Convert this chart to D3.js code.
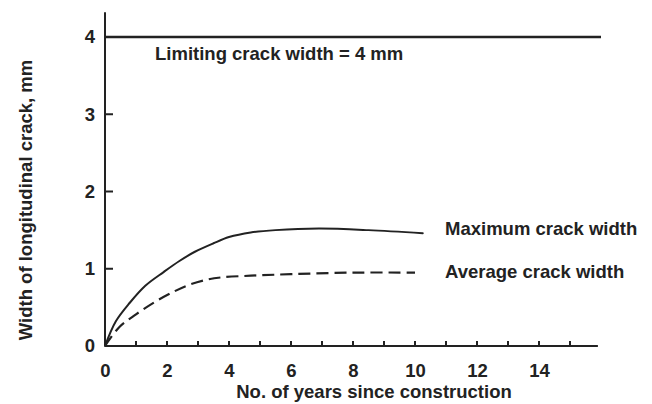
<!DOCTYPE html>
<html>
<head>
<meta charset="utf-8">
<script src="https://cdn.jsdelivr.net/npm/d3@7"></script>
<style>
  body { margin: 0; background: #fff; }
  text { font-family: "Liberation Sans", Arial, sans-serif; font-weight: bold; fill: #222; }
</style>
</head>
<body>
<div id="vis-container"></div>
<script>
// values (years, mm)
const maxYears  = [0, 0.35, 0.8, 1.3, 1.9, 2.4, 2.9, 3.5, 4.0, 4.7, 5.5, 6.9, 8.5, 10.25];
const maxWidth  = [0, 0.32, 0.56, 0.78, 0.96, 1.1, 1.22, 1.33, 1.41, 1.47, 1.5, 1.52, 1.5, 1.46];
const avgYears  = [0, 0.45, 1.0, 1.65, 2.2, 2.7, 3.3, 3.8, 4.7, 6.0, 8.0, 10.0];
const avgWidth  = [0, 0.24, 0.41, 0.58, 0.7, 0.79, 0.86, 0.89, 0.91, 0.93, 0.95, 0.95];
const limitYears = [0, 16];
const limitWidth = [4, 4];
const xTickValues = d3.range(1, 16);
const xTickLabels = [0, 2, 4, 6, 8, 10, 12, 14];
const yTickValues = [1, 2, 3];
const yTickLabels = [0, 1, 2, 3, 4];

const width = 652;
const height = 404;

const xScale = d3.scaleLinear().domain([0, 15]).range([105, 570]);
const yScale = d3.scaleLinear().domain([0, 4]).range([346, 37]);

const svg = d3.select('#vis-container').append('svg')
  .attr('width', width)
  .attr('height', height);

const ink = '#222';
const font = '"Liberation Sans", Arial, sans-serif';

// tick labels
const xLabels = d3.axisBottom(xScale)
  .tickValues(xTickLabels)
  .tickSize(0)
  .tickPadding(18)
  .tickFormat(d3.format('d'));
const yLabels = d3.axisLeft(yScale)
  .tickValues(yTickLabels)
  .tickSize(0)
  .tickPadding(10)
  .tickFormat(d3.format('d'));

svg.append('g').attr('transform', `translate(0 ${yScale(0)})`).call(xLabels);
svg.append('g').attr('transform', `translate(${xScale(0)} 0)`).call(yLabels);

svg.selectAll('.domain').remove();
svg.selectAll('.tick text')
  .attr('fill', ink)
  .style('font-size', '18.5px')
  .style('font-family', font)
  .style('font-weight', 'bold');

// small inward tick marks
svg.append('g').selectAll('line')
  .data(xTickValues)
  .join('line')
  .attr('x1', d => xScale(d)).attr('x2', d => xScale(d))
  .attr('y1', yScale(0)).attr('y2', yScale(0) - 5)
  .attr('stroke', ink).attr('stroke-width', 2);

svg.append('g').selectAll('line')
  .data(yTickValues)
  .join('line')
  .attr('x1', xScale(0)).attr('x2', xScale(0) + 8)
  .attr('y1', d => yScale(d)).attr('y2', d => yScale(d))
  .attr('stroke', ink).attr('stroke-width', 2);

// axis lines, drawn a bit past the last tick like the original
svg.append('line')
  .attr('x1', xScale(0)).attr('x2', xScale(15.9))
  .attr('y1', yScale(0)).attr('y2', yScale(0))
  .attr('stroke', ink).attr('stroke-width', 2);
svg.append('line')
  .attr('x1', xScale(0)).attr('x2', xScale(0))
  .attr('y1', yScale(0)).attr('y2', yScale(4.32))
  .attr('stroke', ink).attr('stroke-width', 2);

const line = d3.line()
  .x(d => xScale(d[0]))
  .y(d => yScale(d[1]))
  .curve(d3.curveCatmullRom.alpha(0.5));

const zip = (a, b) => a.map((v, i) => [v, b[i]]);

// limiting crack width
svg.append('path')
  .datum(zip(limitYears, limitWidth))
  .attr('fill', 'none')
  .attr('stroke', ink)
  .attr('stroke-width', 2.5)
  .attr('d', d3.line().x(d => xScale(d[0])).y(d => yScale(d[1])));

// maximum crack width
svg.append('path')
  .datum(zip(maxYears, maxWidth))
  .attr('fill', 'none')
  .attr('stroke', ink)
  .attr('stroke-width', 2)
  .attr('stroke-linecap', 'round')
  .attr('d', line);

// average crack width
svg.append('path')
  .datum(zip(avgYears, avgWidth))
  .attr('fill', 'none')
  .attr('stroke', ink)
  .attr('stroke-width', 2.2)
  .attr('stroke-dasharray', '12,6')
  .attr('d', line);

// labels
const label = (x, y, s) => svg.append('text')
  .attr('x', x).attr('y', y)
  .style('font-size', '18.5px')
  .text(s);

label(155, 60, 'Limiting crack width = 4 mm');
label(445, 235, 'Maximum crack width');
label(445, 278, 'Average crack width');

svg.append('text')
  .attr('x', 374).attr('y', 398)
  .attr('text-anchor', 'middle')
  .style('font-size', '18.5px')
  .text('No. of years since construction');

svg.append('text')
  .attr('transform', 'translate(32 200) rotate(-90)')
  .attr('text-anchor', 'middle')
  .style('font-size', '18.5px')
  .text('Width of longitudinal crack, mm');
</script>
</body>
</html>
